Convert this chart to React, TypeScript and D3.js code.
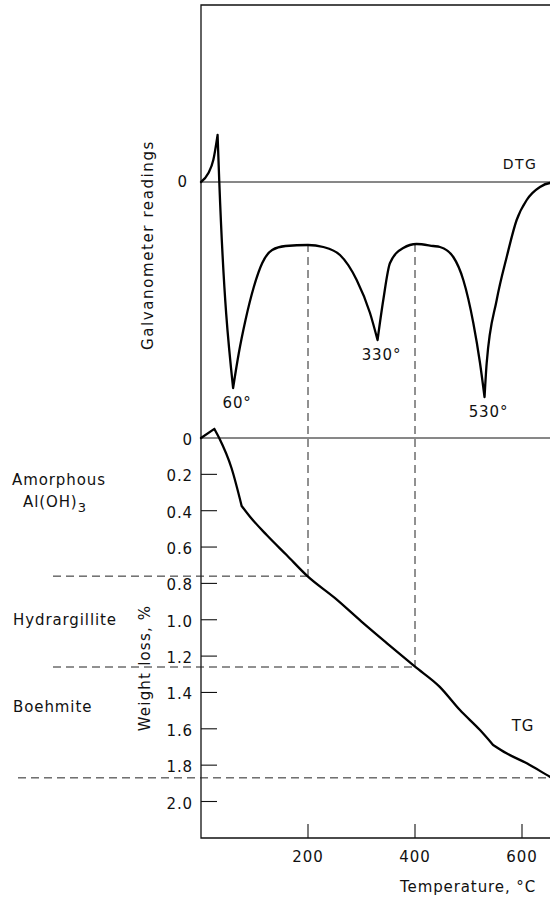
import { useEffect, useRef } from "react";
import * as d3 from "d3";

const WIDTH = 550;
const HEIGHT = 898;

// DTG trace, galvanometer readings (arbitrary units, 0 = baseline)
const dtgTemp = [0, 13.6, 23, 31, 34.2, 60, 70.7, 83.2, 98.7, 114.5, 133, 158, 200, 228.6, 259.8, 291, 315.9, 330, 340.7, 353.3, 378, 403, 434, 446.7, 471.6, 490.3, 509, 521.5, 530, 534, 552.7, 571.4, 590, 608.8, 633.6, 652, 680];
const dtgValue = [0, 0.87, 2.2, 4.7, 0, -20.6, -17.1, -13.8, -10.5, -8.1, -6.8, -6.4, -6.3, -6.5, -7.3, -9.8, -13.1, -15.8, -11.8, -8.1, -6.6, -6.2, -6.4, -6.5, -7.5, -9.8, -14.1, -18.1, -21.5, -18.1, -11.8, -7.5, -3.8, -1.8, -0.5, -0.1, 0];
const dtgBreaks = [3, 5, 17, 28];

// TG trace, weight loss %
const tgTemp = [0, 25, 34, 57, 76, 91.6, 122.8, 160, 200, 250, 300, 350, 400, 445.8, 484, 521.5, 546, 571, 609, 652, 680];
const tgValue = [0, -0.05, 0, 0.165, 0.374, 0.433, 0.534, 0.644, 0.763, 0.88, 1.01, 1.135, 1.258, 1.368, 1.497, 1.607, 1.689, 1.735, 1.79, 1.864, 1.91];
const tgBreaks = [1, 4, 16];

const tempTicks = [200, 400, 600];
const weightTicks = [0.2, 0.4, 0.6, 0.8, 1.0, 1.2, 1.4, 1.6, 1.8, 2.0];
const peakTemps = [60, 330, 530];
const phaseLimits = [0.76, 1.26, 1.87];
const phaseTemps = [200, 400];

const FONT = "DejaVu Sans";

export default function App() {
  const svgRef = useRef<SVGSVGElement>(null);

  useEffect(() => {
    const svg = d3.select(svgRef.current);
    svg.selectAll("*").remove();

    const x = d3.scaleLinear().domain([0, 600]).range([201, 522]);
    const yDtg = d3.scaleLinear().domain([0, -20]).range([182, 382]);
    const yTg = d3.scaleLinear().domain([0, 2]).range([438, 801.5]);
    const left = x(0);
    const bottom = 838;

    // draw a trace as monotone pieces joined at its sharp corners
    const trace = (temps: number[], vals: number[], breaks: number[], y: d3.ScaleLinear<number, number>) => {
      const pts: [number, number][] = temps.map((t, i) => [x(t), y(vals[i])]);
      const cuts = [0, ...breaks, pts.length - 1];
      const line = d3.line().curve(d3.curveMonotoneX);
      return d3.pairs(cuts).map(([a, b]) => line(pts.slice(a, b + 1))).join("");
    };

    const g = svg.append("g").attr("font-family", FONT).attr("fill", "#111");

    // frame
    g.append("path")
      .attr("d", `M${WIDTH},5H${left}V${bottom}H${WIDTH}`)
      .attr("fill", "none")
      .attr("stroke", "#111")
      .attr("stroke-width", 1.3);

    // zero lines
    g.selectAll(".zero")
      .data([yDtg(0), yTg(0)])
      .join("line")
      .attr("x1", left)
      .attr("x2", WIDTH)
      .attr("y1", (d) => d)
      .attr("y2", (d) => d)
      .attr("stroke", "#111")
      .attr("stroke-width", 1);

    // temperature ticks
    g.selectAll(".xt")
      .data(tempTicks)
      .join("line")
      .attr("x1", (d) => x(d))
      .attr("x2", (d) => x(d))
      .attr("y1", bottom)
      .attr("y2", bottom - 14)
      .attr("stroke", "#111")
      .attr("stroke-width", 1.1);

    g.selectAll(".xl")
      .data(tempTicks)
      .join("text")
      .attr("x", (d) => x(d))
      .attr("y", bottom + 19)
      .attr("text-anchor", "middle")
      .attr("dominant-baseline", "central")
      .attr("font-size", 15)
      .attr("letter-spacing", 1)
      .text((d) => d);

    g.append("text")
      .attr("x", 468)
      .attr("y", 887)
      .attr("text-anchor", "middle")
      .attr("dominant-baseline", "central")
      .attr("font-size", 15)
      .attr("letter-spacing", 0.9)
      .text("Temperature, °C");

    // weight loss ticks
    g.selectAll(".yt")
      .data(weightTicks)
      .join("line")
      .attr("x1", left)
      .attr("x2", left + 16)
      .attr("y1", (d) => yTg(d))
      .attr("y2", (d) => yTg(d))
      .attr("stroke", "#111")
      .attr("stroke-width", 1.1);

    g.selectAll(".yl")
      .data([0, ...weightTicks])
      .join("text")
      .attr("x", 193)
      .attr("y", (d) => yTg(d) + 2)
      .attr("text-anchor", "end")
      .attr("dominant-baseline", "central")
      .attr("font-size", 15)
      .attr("letter-spacing", 0.9)
      .text((d) => (d === 0 ? "0" : d3.format(".1f")(d)));

    g.append("text")
      .attr("x", 187)
      .attr("y", yDtg(0))
      .attr("text-anchor", "end")
      .attr("dominant-baseline", "central")
      .attr("font-size", 15)
      .text("0");

    // axis titles
    g.append("text")
      .attr("transform", "translate(148,245) rotate(-90)")
      .attr("text-anchor", "middle")
      .attr("dominant-baseline", "central")
      .attr("font-size", 15)
      .attr("letter-spacing", 1.6)
      .text("Galvanometer readings");

    g.append("text")
      .attr("transform", "translate(145,668) rotate(-90)")
      .attr("text-anchor", "middle")
      .attr("dominant-baseline", "central")
      .attr("font-size", 15)
      .attr("letter-spacing", 1.2)
      .text("Weight loss, %");

    // phase boundaries
    const dash = "8,5";
    g.selectAll(".ph")
      .data(phaseLimits)
      .join("line")
      .attr("x1", (d, i) => (i === 2 ? 18 : 53))
      .attr("x2", (d, i) => (i === 2 ? WIDTH : x(phaseTemps[i])))
      .attr("y1", (d) => yTg(d))
      .attr("y2", (d) => yTg(d))
      .attr("stroke", "#222")
      .attr("stroke-width", 1)
      .attr("stroke-dasharray", dash);

    g.selectAll(".pv")
      .data(phaseTemps)
      .join("line")
      .attr("x1", (d) => x(d))
      .attr("x2", (d) => x(d))
      .attr("y1", 244)
      .attr("y2", (d, i) => yTg(phaseLimits[i]))
      .attr("stroke", "#222")
      .attr("stroke-width", 1)
      .attr("stroke-dasharray", dash);

    // phase names
    const names: [string, number, number][] = [
      ["Amorphous", 12, 0.23],
      ["Hydrargillite", 13, 1.0],
      ["Boehmite", 13, 1.48],
    ];
    g.selectAll(".pn")
      .data(names)
      .join("text")
      .attr("x", (d) => d[1])
      .attr("y", (d) => yTg(d[2]))
      .attr("dominant-baseline", "central")
      .attr("font-size", 15)
      .attr("letter-spacing", 0.9)
      .text((d) => d[0]);

    const al = g.append("text")
      .attr("x", 23)
      .attr("y", yTg(0.35))
      .attr("dominant-baseline", "central")
      .attr("font-size", 15)
      .attr("letter-spacing", 0.9);
    al.append("tspan").text("Al(OH)");
    al.append("tspan").attr("dy", 5).attr("font-size", 13).text("3");

    // curves
    g.append("path")
      .attr("d", trace(dtgTemp, dtgValue, dtgBreaks, yDtg))
      .attr("fill", "none")
      .attr("stroke", "#000")
      .attr("stroke-width", 2.3)
      .attr("stroke-linejoin", "round")
      .attr("stroke-linecap", "round");

    g.append("path")
      .attr("d", trace(tgTemp, tgValue, tgBreaks, yTg))
      .attr("fill", "none")
      .attr("stroke", "#000")
      .attr("stroke-width", 2.3)
      .attr("stroke-linejoin", "round")
      .attr("stroke-linecap", "round");

    // peak labels
    g.selectAll(".pk")
      .data(peakTemps)
      .join("text")
      .attr("x", (d) => x(d) + 4)
      .attr("y", (d) => yDtg(dtgValue[dtgTemp.indexOf(d)]) + 15)
      .attr("text-anchor", "middle")
      .attr("dominant-baseline", "central")
      .attr("font-size", 15)
      .attr("letter-spacing", 0.9)
      .text((d) => `${d}°`);

    g.append("text")
      .attr("x", 520)
      .attr("y", 164)
      .attr("text-anchor", "middle")
      .attr("dominant-baseline", "central")
      .attr("font-size", 14)
      .attr("letter-spacing", 1.4)
      .text("DTG");

    g.append("text")
      .attr("x", 523)
      .attr("y", 726)
      .attr("text-anchor", "middle")
      .attr("dominant-baseline", "central")
      .attr("font-size", 15)
      .attr("letter-spacing", 0.9)
      .text("TG");
  }, []);

  return (
    <svg
      ref={svgRef}
      width={WIDTH}
      height={HEIGHT}
      style={{ position: "absolute", left: 0, top: 0, background: "#fff" }}
    />
  );
}
